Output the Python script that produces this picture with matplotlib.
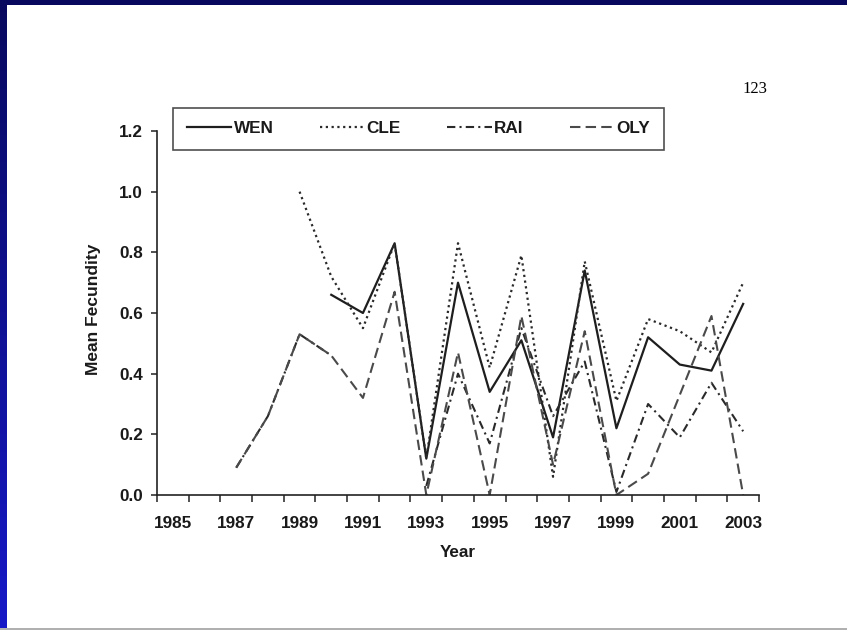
import numpy as np
import matplotlib
matplotlib.use("Agg")
import matplotlib.pyplot as plt
from matplotlib.patches import Rectangle
from matplotlib.ticker import FixedLocator

# Mean fecundity per year, four sites (nan = no data)
nan = np.nan
years = list(range(1985, 2004))
wen = [nan, nan, nan, nan, nan, 0.66, 0.60, 0.83, 0.12, 0.70, 0.34, 0.51, 0.19, 0.74, 0.22, 0.52, 0.43, 0.41, 0.63]
cle = [nan, nan, nan, nan, 1.00, 0.72, 0.55, 0.83, 0.12, 0.83, 0.42, 0.79, 0.06, 0.77, 0.31, 0.58, 0.54, 0.47, 0.70]
rai = [nan, nan, 0.09, 0.26, 0.53, 0.46, nan, nan, 0.03, 0.40, 0.17, 0.55, 0.26, 0.44, 0.01, 0.30, 0.19, 0.37, 0.21]
oly = [nan, nan, 0.09, 0.26, 0.53, 0.46, 0.32, 0.67, 0.00, 0.47, 0.00, 0.59, 0.10, 0.54, 0.00, 0.07, 0.33, 0.59, 0.00]
year_labels = [str(y) for y in years[::2]]
y_ticks = [0.0, 0.2, 0.4, 0.6, 0.8, 1.0, 1.2]

SANS = ["Liberation Sans", "DejaVu Sans"]
FS = 12.3

fig = plt.figure(figsize=(8.47, 6.30), dpi=100)
fig.patch.set_facecolor("white")

# slide frame: navy top strip, blue gradient down the left, grey bottom rule
fig.patches.append(Rectangle((0, 1 - 5 / 630), 1, 5 / 630, transform=fig.transFigure,
                             facecolor="#07085e", edgecolor="none", zorder=0))
grad_ax = fig.add_axes([0, 0, 6 / 847, 1 - 5 / 630])
grad_ax.axis("off")
grad = np.linspace(0, 1, 256).reshape(-1, 1)
grad_ax.imshow(grad, aspect="auto", extent=(0, 1, 0, 1), origin="upper",
               cmap=matplotlib.colors.LinearSegmentedColormap.from_list("b", ["#08095e", "#1719c8"]))
fig.patches.append(Rectangle((0, 0), 1, 2 / 630, transform=fig.transFigure,
                             facecolor="#b0b0b0", edgecolor="none", zorder=0))

ax = fig.add_axes([157 / 847, 1 - 495 / 630, 602 / 847, 364 / 630])

ax.plot(years, wen, color="#1e1e1e", lw=1.6, ls="-", label="WEN")
ax.plot(years, cle, color="#2a2a2a", lw=1.6, ls=(0, (1, 1.6)), label="CLE")
ax.plot(years, rai, color="#2a2a2a", lw=1.5, ls=(0, (4, 2, 1, 2)), label="RAI")
ax.plot(years, oly, color="#4a4a4a", lw=1.5, ls=(0, (5, 2.5)), label="OLY")

ax.set_xlim(1984.5, 2003.5)
ax.set_ylim(0, 1.2)
ax.set_xticks(years[::2])
ax.set_xticklabels(year_labels, family=SANS, fontsize=FS, fontweight="bold", color="#1a1a1a")
ax.xaxis.set_minor_locator(FixedLocator(np.arange(1984.5, 2004, 1.0)))
ax.tick_params(axis="x", which="major", length=0, pad=15)
ax.tick_params(axis="x", which="minor", length=5, width=1.1, direction="out", color="#222222")
ax.set_yticks(y_ticks)
ax.set_yticklabels([f"{v:.1f}" for v in y_ticks], family=SANS, fontsize=FS,
                   fontweight="bold", color="#1a1a1a")
ax.tick_params(axis="y", length=4, width=1.1, direction="out", pad=6, color="#222222")

for side in ("top", "right"):
    ax.spines[side].set_visible(False)
for side in ("left", "bottom"):
    ax.spines[side].set_color("#222222")
    ax.spines[side].set_linewidth(1.2)

ax.set_xlabel("Year", family=SANS, fontsize=FS, fontweight="bold", color="#1a1a1a", labelpad=10)
ax.set_ylabel("Mean Fecundity", family=SANS, fontsize=12.5, fontweight="bold", color="#1a1a1a")
ax.yaxis.set_label_coords(-0.093, 0.51)

leg = fig.legend(loc="lower left", ncol=4, mode="expand",
                 bbox_to_anchor=(173 / 847, 1 - 150 / 630, 491 / 847, 43 / 630),
                 prop={"family": SANS, "size": FS, "weight": "bold"}, handlelength=2.6,
                 handletextpad=0.15, borderpad=0.8, borderaxespad=0,
                 frameon=True, fancybox=False)
leg.get_frame().set_edgecolor("#222222")
leg.get_frame().set_linewidth(1.2)
for t in leg.get_texts():
    t.set_color("#1a1a1a")

fig.text(755 / 847, 1 - 89 / 630, "123", family=["Liberation Serif", "DejaVu Serif"],
         fontsize=12, ha="center", va="center")

fig.savefig("out.png", dpi=100, facecolor="white")
